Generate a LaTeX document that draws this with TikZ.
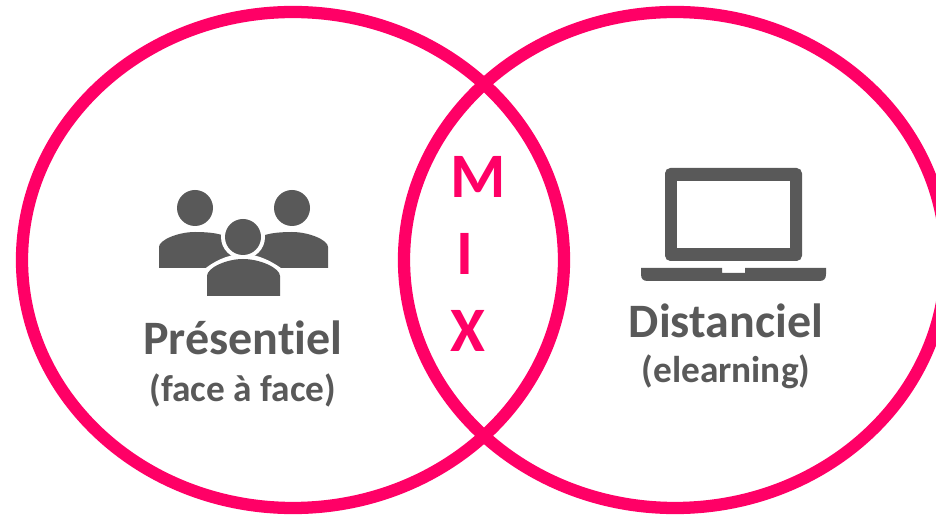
\documentclass[tikz,border=0pt]{standalone}
\usepackage{fontspec}
\setmainfont[Ligatures=NoCommon]{Carlito}
\definecolor{pinkring}{HTML}{FF0066}
\definecolor{icongray}{HTML}{595959}
\tikzset{
	ring/.style={draw=pinkring,line width=9.2pt},
	icon/.style={fill=icongray,draw=none},
	biglabel/.style={text=icongray,font=\bfseries\fontsize{36}{38}\selectfont,inner sep=0pt},
	smalllabel/.style={text=icongray,font=\bfseries\fontsize{28}{30}\selectfont,inner sep=0pt},
	mixletter/.style={text=pinkring,font=\bfseries\fontsize{47.5}{50}\selectfont,inner sep=0pt}
}
\begin{document}
\begin{tikzpicture}[x=0.75pt,y=-0.75pt]
	\useasboundingbox (0,0) rectangle (936,516);
	\begin{scope}
		\clip (0,0) rectangle (936,516);
		\draw[ring] (293,260) ellipse [x radius=271,y radius=248];
		\draw[ring] (675,260) ellipse [x radius=271,y radius=248];
	\end{scope}
	% people
	\foreach \hx in {195,292}{
		\fill[icon] (\hx,208) circle (18);
	}
	\fill[icon] (159,268) -- (159,247) .. controls (159,240) and (178,232) .. (195,232)
		.. controls (212,232) and (220,234) .. (228,237) -- (258,268) -- cycle;
	\fill[icon] (328,268) -- (328,247) .. controls (328,240) and (309,232) .. (292,232)
		.. controls (275,232) and (267,234) .. (259,237) -- (229,268) -- cycle;
	\fill[white] (243,237) circle (22);
	\fill[white] (201,300) -- (201,272) .. controls (212,262) and (228,254) .. (243,254)
		.. controls (258,254) and (274,262) .. (286,272) -- (286,300) -- cycle;
	\fill[icon] (243,237) circle (18);
	\fill[icon] (207,296) -- (207,276) .. controls (207,268) and (226,259) .. (243,259)
		.. controls (260,259) and (280,268) .. (280,276) -- (280,296) -- cycle;
	% laptop
	\fill[icon,rounded corners=4pt] (665,261) -- (665,168) -- (802,168) -- (802,261) -- cycle;
	\fill[white] (677,181) rectangle (790,248);
	\fill[icon] (641,268) -- (722,268) -- (722,273) -- (745,273) -- (745,268) -- (826,268)
		-- (826,274) .. controls (826,279) and (824,281) .. (819,281) -- (648,281)
		.. controls (643,281) and (641,279) .. (641,274) -- cycle;
	% labels
	\node[biglabel] (presentiel) at (243,338) {Présentiel};
	\node[smalllabel] (face) at (243,390) {(face à face)};
	\node[biglabel] (distanciel) at (726,321) {Distanciel};
	\node[smalllabel] (elearning) at (726,372) {(elearning)};
	\foreach \letter/\lx/\ly in {M/478/177,I/464.5/254,X/468/331}{
		\node[mixletter] (mix\letter) at (\lx,\ly) {\letter};
	}
\end{tikzpicture}
\end{document}
